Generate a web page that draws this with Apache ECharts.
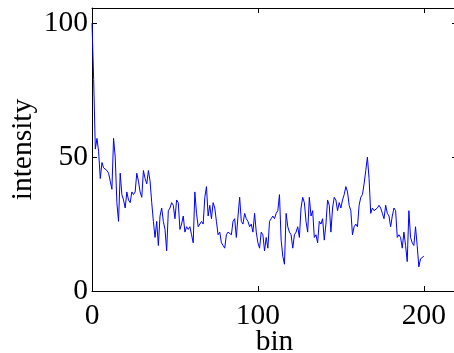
<!DOCTYPE html>
<html>
<head>
<meta charset="utf-8">
<script src="https://cdn.jsdelivr.net/npm/echarts@6/dist/echarts.min.js"></script>
<style>
html,body{margin:0;padding:0;background:#fff;overflow:hidden;}
#c{width:454px;height:353px;}
</style>
</head>
<body>
<div id="c"></div>
<script>
// bin index 0..200
var intensity = [
  100,79,53,57,52,42,48,46,46,45,
  44,41,38,57,50,33,26,44,36,34,
  31,37,34,33,37,36,37,44,41,37,
  35,45,42,40,45,41,33,26,20,26,
  17,28,31,26,23,15,30,31,33,32,
  27,34,33,23,25,28,22,24,23,24,
  21,18,37,29,24,24,26,25,35,39,
  28,32,27,33,31,26,21,22,18,17,
  16,21,22,22,21,26,27,20,28,35,
  26,25,29,27,26,24,25,22,29,22,
  18,16,22,21,15,20,16,26,27,28,
  27,29,30,36,19,13,10,29,24,22,
  21,16,21,22,24,20,31,35,33,26,
  22,35,28,30,20,21,18,26,25,27,
  19,25,34,32,22,31,35,34,30,33,
  31,34,36,39,37,32,30,21,24,25,
  24,32,35,36,40,45,50,42,29,31,
  30,30,31,32,31,29,27,32,29,28,
  24,28,31,30,20,21,20,16,22,17,
  11,30,20,18,17,24,17,9,12,12,13
];
var bins = intensity.map(function(v,i){return i;});
var xTicks = [0,100,200];
var yTicks = [0,50,100];
var xLabel = 'bin';
var yLabel = 'intensity';

var data = bins.map(function(b,i){return [b,intensity[i]];});
var FONT = "'Liberation Serif', 'Times New Roman', serif";
var FS = 29.5;
function mkX(pos, showLab){
  return {
    type:'value', position:pos, min:0, max:220, interval:100,
    axisLine:{show:true,onZero:false,lineStyle:{color:'#000',width:1}},
    axisTick:{show:true,inside:true,length:5,lineStyle:{color:'#000'}},
    splitLine:{show:false},
    axisLabel:{show:showLab,showMaxLabel:false,color:'#000',fontFamily:FONT,fontSize:FS,margin:10,
      formatter:function(v){return xTicks.indexOf(v)>=0?String(v):'';}},
    name: showLab?xLabel:'', nameLocation:'middle', nameGap:36, nameMoveOverlap:false,
    nameTextStyle:{color:'#000',fontFamily:FONT,fontSize:FS}
  };
}
function mkY(pos, showLab){
  return {
    type:'value', position:pos, min:0, max:105.7, interval:50,
    axisLine:{show:true,onZero:false,lineStyle:{color:'#000',width:1}},
    axisTick:{show:true,inside:true,length:5,lineStyle:{color:'#000'}},
    splitLine:{show:false},
    axisLabel:{show:showLab,showMaxLabel:false,color:'#000',fontFamily:FONT,fontSize:FS,margin:4,
      formatter:function(v){return yTicks.indexOf(v)>=0?String(v):'';}},
    name: showLab?yLabel:'', nameLocation:'middle', nameGap:54, nameRotate:90, nameMoveOverlap:false,
    nameTextStyle:{color:'#000',fontFamily:FONT,fontSize:FS}
  };
}
var chart = echarts.init(document.getElementById('c'),null,{renderer:'canvas'});
chart.setOption({
  animation:false,
  backgroundColor:'#fff',
  grid:{left:92,top:8,width:365,height:283,containLabel:false,outerBoundsMode:'none'},
  xAxis:[mkX('bottom',true), mkX('top',false)],
  yAxis:[mkY('left',true), mkY('right',false)],
  series:[{
    type:'line', data:data, xAxisIndex:0, yAxisIndex:0,
    showSymbol:false, symbol:'none',
    lineStyle:{color:'#0000ff',width:1}
  }]
});
</script>
</body>
</html>
